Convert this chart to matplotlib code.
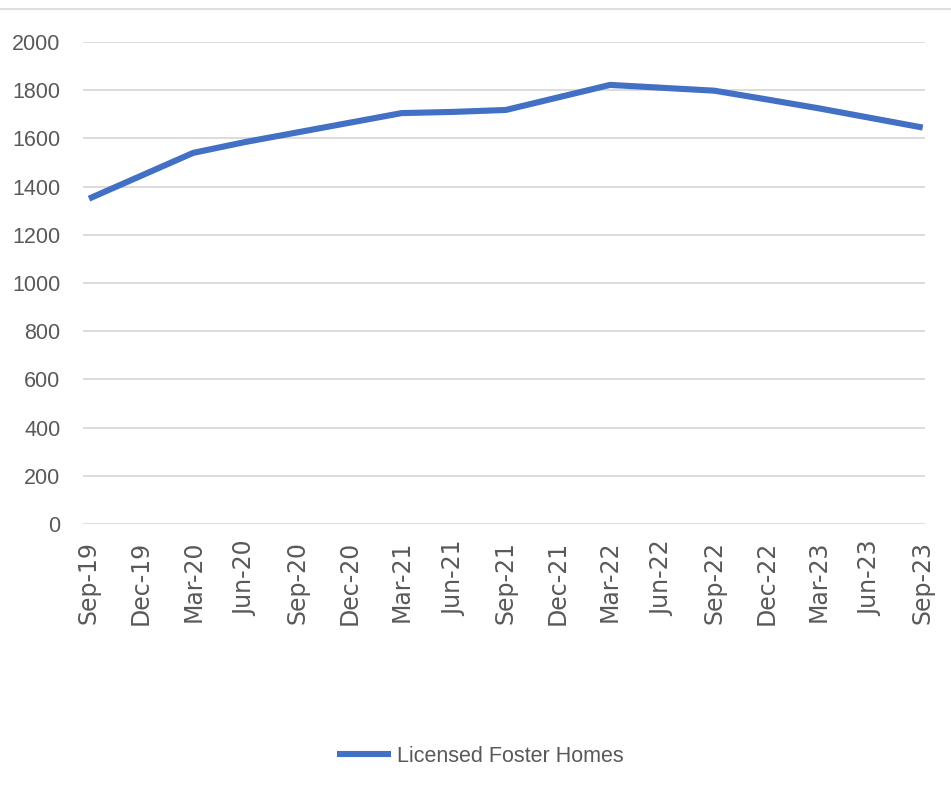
import matplotlib
matplotlib.use("Agg")
import matplotlib.pyplot as plt
from matplotlib.lines import Line2D

categories = ["Sep-19", "Dec-19", "Mar-20", "Jun-20", "Sep-20", "Dec-20", "Mar-21",
              "Jun-21", "Sep-21", "Dec-21", "Mar-22", "Jun-22", "Sep-22", "Dec-22",
              "Mar-23", "Jun-23", "Sep-23"]
foster_homes = [1350, 1445, 1540, 1585, 1625, 1665, 1705, 1710, 1718, 1770, 1822,
                1810, 1798, 1762, 1725, 1685, 1645]
series_name = "Licensed Foster Homes"
yticks = [0, 200, 400, 600, 800, 1000, 1200, 1400, 1600, 1800, 2000]

font = "Liberation Sans"

fig = plt.figure(figsize=(9.51, 8.10), dpi=100)
ax = fig.add_axes([0.087, 1 - 524/810, 0.886, (524 - 42)/810])

x = list(range(len(categories)))
ax.plot(x, foster_homes, color="#4170C5", lw=4.4, solid_capstyle="butt",
        solid_joinstyle="round", label=series_name)

ax.set_ylim(0, 2000)
ax.set_xlim(-0.12, 16.05)
ax.set_yticks(yticks)
ax.set_yticklabels([str(v) for v in yticks], fontfamily=font, fontsize=15.5, color="#595959")
ax.set_xticks(x)
ax.set_xticklabels(categories, rotation=90, fontfamily="DejaVu Sans", fontsize=17, color="#595959")
ax.tick_params(axis="both", length=0)
ax.tick_params(axis="y", pad=16)
ax.tick_params(axis="x", pad=12)
ax.grid(axis="y", color="#D9D9D9", lw=1.3)
ax.set_axisbelow(True)
for s in ax.spines.values():
    s.set_visible(False)

fig.add_artist(Line2D([0, 1], [1 - 9/810, 1 - 9/810], color="#D9D9D9", lw=1.2,
                      transform=fig.transFigure))

leg = fig.legend(loc="center", bbox_to_anchor=(0.505, 1 - 756/810), frameon=False,
                 prop={"family": font, "size": 15.5}, handlelength=2.5, handletextpad=0.3)
for t in leg.get_texts():
    t.set_color("#595959")

fig.savefig("out.png", dpi=100, facecolor="white")
